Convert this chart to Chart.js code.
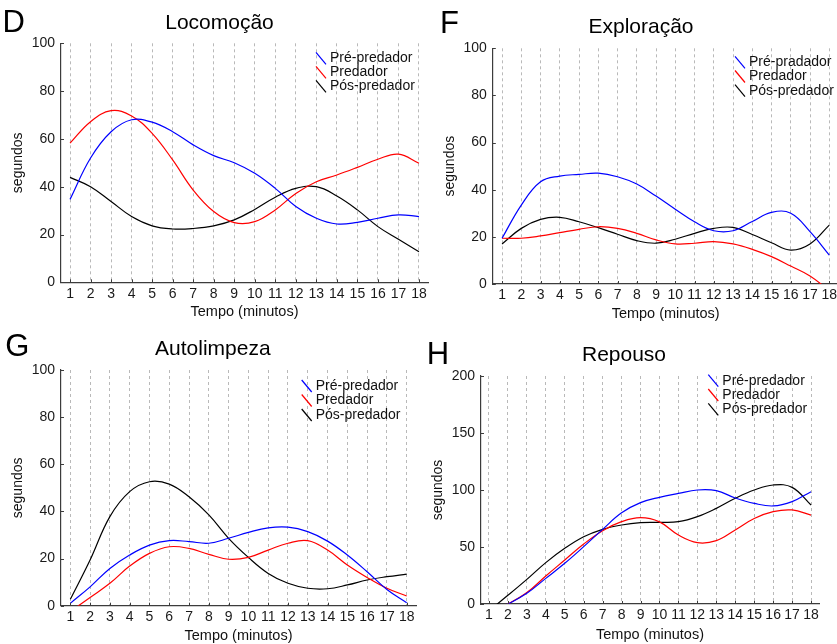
<!DOCTYPE html>
<html>
<head>
<meta charset="utf-8">
<script src="https://cdn.jsdelivr.net/npm/chart.js@4.4.1/dist/chart.umd.min.js"></script>
<style>
  html, body { margin: 0; padding: 0; background: #ffffff; }
  #wrap { position: relative; width: 837px; height: 644px; overflow: hidden; background: #ffffff; }
  #wrap canvas { position: absolute; left: 0; top: 0; }
</style>
</head>
<body>
<div id="wrap">
  <canvas id="locomocao" width="880" height="680"></canvas>
  <canvas id="exploracao" width="880" height="680"></canvas>
  <canvas id="autolimpeza" width="880" height="680"></canvas>
  <canvas id="repouso" width="880" height="680"></canvas>
</div>
<script>
// Minutes of observation (x-axis categories / tick labels)
const minutes = [1, 2, 3, 4, 5, 6, 7, 8, 9, 10, 11, 12, 13, 14, 15, 16, 17, 18];

// Series names
const seriesNames  = ['Pré-predador', 'Predador', 'Pós-predador'];
const seriesNamesF = ['Pré-pradador', 'Predador', 'Pós-predador'];

// Y-axis tick values
const ticks100 = [0, 20, 40, 60, 80, 100];
const ticks200 = [0, 50, 100, 150, 200];

// D – Locomoção (segundos)
const locomocaoPre  = [34.7, 52, 63, 68, 67, 63, 57.5, 53, 50, 45.6, 39.3, 31.7, 26.8, 24.4, 25.1, 26.8, 28.2, 27.5];
const locomocaoPred = [58.2, 67.2, 71.8, 69.6, 62.3, 51.2, 38.6, 29.6, 25, 25.4, 30.3, 37.2, 42.1, 44.9, 48.1, 51.5, 53.6, 49.8];
const locomocaoPos  = [43.9, 40, 33.8, 27.5, 23.6, 22.3, 22.5, 23.6, 26.1, 30.5, 35.6, 39.3, 40, 36.1, 30.3, 23.3, 18, 12.8];

// F – Exploração (segundos)
const exploracaoPre  = [19.4, 33.5, 43.4, 45.8, 46.5, 47, 45.5, 42.4, 37.3, 31.7, 26.4, 22.6, 22.6, 26.5, 30.4, 30, 22.2, 12.3];
const exploracaoPred = [19.4, 19.4, 20.4, 21.8, 23.2, 24.3, 23.6, 21.5, 18.7, 17, 17.3, 18, 17, 14.7, 11.6, 7.6, 3.4, -2.8];
const exploracaoPos  = [17, 23.6, 27.4, 28.3, 26.4, 23.9, 21.1, 18.4, 17.3, 19, 21.5, 23.6, 24, 21, 17.5, 14.4, 17, 25];

// G – Autolimpeza (segundos)
const autolimpezaPre  = [1, 8, 15.8, 21.5, 25.7, 27.6, 27.2, 26.5, 28.6, 31.1, 33, 33.3, 31.4, 27.4, 21.5, 14.4, 6.9, 1.3];
const autolimpezaPred = [-2.4, 3.5, 9.5, 16.8, 22.2, 25, 24.3, 21.8, 19.7, 20.5, 23.6, 26.5, 27.6, 23.6, 17.3, 12, 7.4, 4.1];
const autolimpezaPos  = [2.7, 19.4, 37.8, 48.4, 52.6, 51.6, 46.2, 38.5, 28.6, 20.5, 13.7, 9.5, 7.4, 7.2, 8.8, 10.9, 12.3, 13.4];

// H – Repouso (segundos)
const repousoPre  = [-8, 0, 9.4, 22.5, 35.7, 50.3, 65.5, 80, 88.9, 93.6, 97, 100, 99.4, 93, 88.3, 86, 89.8, 98.5];
const repousoPred = [-8, 0, 10, 24.6, 38.6, 52.6, 64.3, 72.2, 75.7, 72, 60.5, 53.8, 55.6, 65, 75, 81, 82.5, 78];
const repousoPos  = [-6, 7.6, 21.6, 36.3, 48.8, 59, 65.5, 69.3, 71.3, 71.6, 72.2, 76.6, 83.9, 92.7, 100, 104.4, 102.3, 86.8];

const FONT = '"Liberation Sans", Arial, Helvetica, sans-serif';
const AXIS_COLOR = '#3c3c3c';
const LINE_COLORS = ['#0000ff', '#ff0000', '#000000'];

// Draws inward tick marks, the panel letter, the panel title and the legend.
const panelDecor = {
  id: 'panelDecor',
  afterDraw(chart, args, o) {
    const ctx = chart.ctx;
    const {left, bottom} = chart.chartArea;
    const xs = chart.scales.x, ys = chart.scales.y;
    ctx.save();

    ctx.strokeStyle = AXIS_COLOR;
    ctx.lineWidth = 1;
    ctx.beginPath();
    xs.ticks.forEach(t => {
      const px = Math.round(xs.getPixelForValue(t.value)) + 0.5;
      ctx.moveTo(px, bottom); ctx.lineTo(px, bottom - 3);
    });
    ys.ticks.forEach(t => {
      const py = Math.round(ys.getPixelForValue(t.value)) + 0.5;
      ctx.moveTo(left, py); ctx.lineTo(left + 3, py);
    });
    ctx.stroke();

    ctx.fillStyle = '#000';
    ctx.textBaseline = 'alphabetic';
    ctx.textAlign = 'left';
    ctx.font = '31px ' + FONT;
    ctx.fillText(o.letter, o.letterX, o.letterY);

    ctx.textAlign = 'center';
    ctx.font = '21px ' + FONT;
    ctx.fillText(o.title, o.titleX, o.titleY);

    ctx.textAlign = 'left';
    ctx.textBaseline = 'middle';
    ctx.font = '14px ' + FONT;
    chart.data.datasets.forEach((ds, i) => {
      const cy = o.legendY + i * o.legendGap;
      ctx.strokeStyle = ds.borderColor;
      ctx.lineWidth = 1.2;
      ctx.beginPath();
      ctx.moveTo(o.legendX, cy - 6);
      ctx.lineTo(o.legendX + 10, cy + 6);
      ctx.stroke();
      ctx.fillStyle = '#111';
      ctx.fillText(ds.label, o.legendX + 14, cy);
    });
    ctx.restore();
  }
};

const Y_W = 52;   // width reserved for the y axis
const X_H = 40;   // height reserved for the x axis

function makePanel(id, p) {
  const canvas = document.getElementById(id);
  const W = canvas.width, H = canvas.height;
  const datasets = p.series.map((vals, i) => ({
    label: p.names[i],
    data: minutes.map((m, k) => ({x: m, y: vals[k]})),
    borderColor: LINE_COLORS[i],
    borderWidth: 1.2,
    pointRadius: 0,
    tension: 0.4,
    fill: false,
    clip: 0
  }));
  return new Chart(canvas, {
    type: 'line',
    data: {datasets},
    options: {
      responsive: false,
      animation: false,
      events: [],
      elements: {line: {capBezierPoints: false}},
      layout: {
        padding: {
          left: p.area.L - Y_W,
          top: p.area.T,
          right: W - p.area.R,
          bottom: H - p.area.B - X_H
        }
      },
      scales: {
        x: {
          type: 'linear',
          min: p.xMin, max: p.xMax,
          afterBuildTicks: s => { s.ticks = minutes.map(v => ({value: v})); },
          afterFit: s => { s.height = X_H; },
          grid: {display: true, drawTicks: false, color: '#b9b9b9', lineWidth: 1},
          border: {display: true, color: AXIS_COLOR, width: 1.2, dash: [3, 3]},
          ticks: {padding: 3, color: '#1a1a1a', font: {family: FONT, size: 14},
                  callback: v => String(v), maxRotation: 0, autoSkip: false},
          title: {display: true, text: 'Tempo (minutos)', color: '#111',
                  font: {family: FONT, size: 14.5}, padding: {top: 0, bottom: p.xTitlePad}}
        },
        y: {
          type: 'linear',
          min: 0, max: p.yTicks[p.yTicks.length - 1],
          afterBuildTicks: s => { s.ticks = p.yTicks.map(v => ({value: v})); },
          afterFit: s => { s.width = Y_W; },
          grid: {display: false, drawTicks: false},
          border: {display: true, color: AXIS_COLOR, width: 1.2},
          ticks: {padding: 6, color: '#1a1a1a', font: {family: FONT, size: 14}},
          title: {display: true, text: 'segundos', color: '#111',
                  font: {family: FONT, size: 14}, padding: {top: p.yTitlePad, bottom: 0}}
        }
      },
      plugins: {
        legend: {display: false},
        tooltip: {enabled: false},
        panelDecor: p.decor
      }
    },
    plugins: [panelDecor]
  });
}

makePanel('locomocao', {
  series: [locomocaoPre, locomocaoPred, locomocaoPos], names: seriesNames,
  area: {L: 61, T: 43.3, R: 428, B: 282.3}, xMin: 0.56, xMax: 18.44,
  yTicks: ticks100, xTitlePad: 1.2, yTitlePad: 0.9,
  decor: {letter: 'D', letterX: 2.6, letterY: 32, title: 'Locomoção', titleX: 219.5, titleY: 29.3,
          legendX: 316, legendY: 58.3, legendGap: 14}
});

makePanel('exploracao', {
  series: [exploracaoPre, exploracaoPred, exploracaoPos], names: seriesNamesF,
  area: {L: 492.8, T: 48.3, R: 838.5, B: 284}, xMin: 0.52, xMax: 18.48,
  yTicks: ticks100, xTitlePad: 1.4, yTitlePad: 0.8,
  decor: {letter: 'F', letterX: 440, letterY: 33.3, title: 'Exploração', titleX: 641, titleY: 32.7,
          legendX: 735, legendY: 62.3, legendGap: 14.2}
});

makePanel('autolimpeza', {
  series: [autolimpezaPre, autolimpezaPred, autolimpezaPos], names: seriesNames,
  area: {L: 61, T: 370, R: 416, B: 605.7}, xMin: 0.53, xMax: 18.47,
  yTicks: ticks100, xTitlePad: 1.1, yTitlePad: 0.9,
  decor: {letter: 'G', letterX: 5.2, letterY: 355.5, title: 'Autolimpeza', titleX: 212.8, titleY: 355,
          legendX: 301.7, legendY: 386, legendGap: 14.5}
});

makePanel('repouso', {
  series: [repousoPre, repousoPred, repousoPos], names: seriesNames,
  area: {L: 481, T: 376, R: 819, B: 604}, xMin: 0.58, xMax: 18.42,
  yTicks: ticks200, xTitlePad: 0.4, yTitlePad: 0.6,
  decor: {letter: 'H', letterX: 426.8, letterY: 364.3, title: 'Repouso', titleX: 624, titleY: 361,
          legendX: 708.3, legendY: 380.7, legendGap: 14.3}
});
</script>
</body>
</html>
